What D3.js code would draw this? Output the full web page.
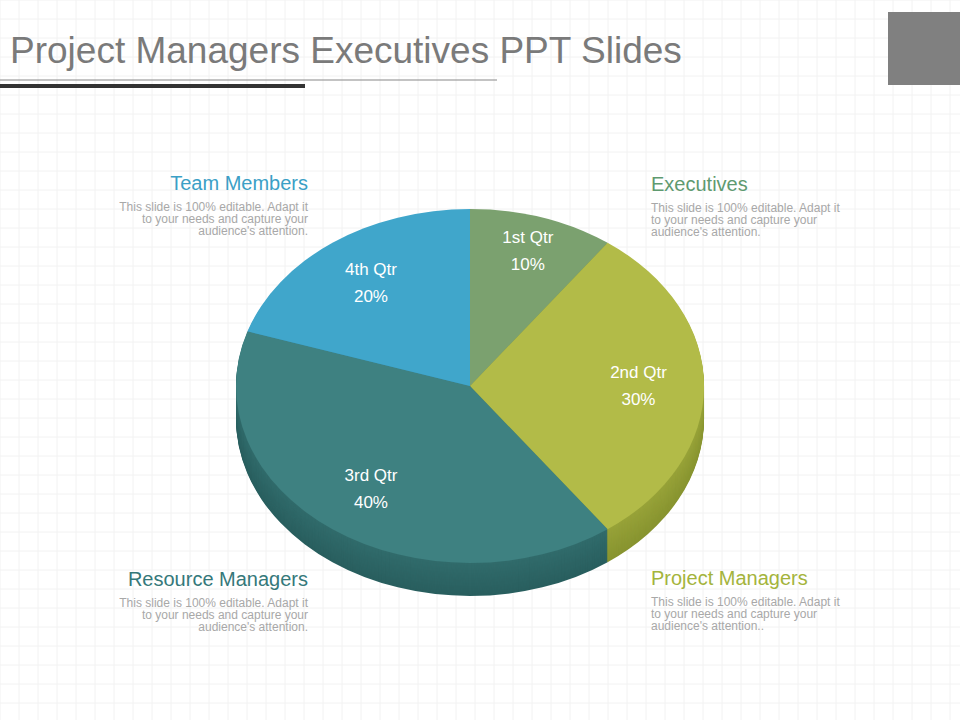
<!DOCTYPE html>
<html><head><meta charset="utf-8">
<script src="https://cdn.jsdelivr.net/npm/d3@7"></script>
<style>body{margin:0;background:#fff}text{font-family:"Liberation Sans",Arial,sans-serif}</style>
</head><body><svg id="c" width="960" height="720"></svg>
<script>
var quarters = ['1st Qtr', '2nd Qtr', '3rd Qtr', '4th Qtr'];
var shares = [10, 30, 40, 20];
var topColors = ['#7BA16F', '#B2BB48', '#3E8181', '#40A6CB'];
var sideColors = ['#4f6e47', '#7d8a2a', '#245656', '#2a7390'];
var headings = ['Executives', 'Project Managers', 'Resource Managers', 'Team Members'];
var headColors = ['#5f9a70', '#a4b43c', '#35787a', '#3b9fc6'];
var body = ["This slide is 100% editable. Adapt it", "to your needs and capture your", "audience's attention."];

var svg = d3.select('#c');
// faint grid
var grid = svg.append('g').attr('stroke', '#f2f2f2').attr('stroke-width', 1);
d3.range(0, 960, 19).forEach(function(x){ grid.append('line').attr('x1', x).attr('x2', x).attr('y1', 0).attr('y2', 720); });
d3.range(0, 720, 19).forEach(function(y){ grid.append('line').attr('y1', y).attr('y2', y).attr('x1', 0).attr('x2', 960); });

svg.append('text').attr('x', 10).attr('y', 63).attr('font-size', 37).attr('fill', '#7a7a7a')
   .text('Project Managers Executives PPT Slides');
svg.append('line').attr('x1', 0).attr('x2', 497).attr('y1', 80).attr('y2', 80).attr('stroke', '#888').attr('stroke-width', 1.2);
svg.append('line').attr('x1', 0).attr('x2', 305).attr('y1', 86).attr('y2', 86).attr('stroke', '#333').attr('stroke-width', 4);
svg.append('rect').attr('x', 888).attr('y', 12).attr('width', 72).attr('height', 73).attr('fill', '#808080');

var cx = 470, cy = 386, rx = 234, ry = 177, depth = 33;
var pie = d3.pie().sort(null).value(function(d){ return d; });
var arcs = pie(shares);
var arc = d3.arc().innerRadius(0).outerRadius(1);

// side extrusion
for (var dz = depth; dz > 0; dz--) {
  svg.append('g').attr('transform', 'translate(' + cx + ',' + (cy + dz) + ') scale(' + rx + ',' + ry + ')')
    .selectAll('path').data(arcs).join('path')
    .attr('d', arc).attr('fill', function(d, i){ return d3.interpolateRgb(sideColors[i], topColors[i])(0.2 + 0.3 * (1 - dz / depth)); });
}
svg.append('g').attr('transform', 'translate(' + cx + ',' + cy + ') scale(' + rx + ',' + ry + ')')
  .selectAll('path').data(arcs).join('path')
  .attr('d', arc).attr('fill', function(d, i){ return topColors[i]; });

var lab = svg.append('g').attr('fill', '#fff').attr('font-size', 17).attr('text-anchor', 'middle')
  .style('font-family', '"Open Sans",sans-serif');
arcs.forEach(function(d, i){
  var a = (d.startAngle + d.endAngle) / 2, r = i == 0 ? 0.8 : 0.72;
  var x = cx + rx * r * Math.sin(a), y = cy - ry * r * Math.cos(a);
  lab.append('text').attr('x', x).attr('y', y - 8).text(quarters[i]);
  lab.append('text').attr('x', x).attr('y', y + 19).text(shares[i] + '%');
});

var boxes = [[651, 191, 'start'], [651, 585, 'start'], [308, 586, 'end'], [308, 190, 'end']];
boxes.forEach(function(b, i){
  var g = svg.append('g').attr('text-anchor', b[2]);
  g.append('text').attr('x', b[0]).attr('y', b[1]).attr('font-size', 20).attr('fill', headColors[i]).text(headings[i]);
  body.forEach(function(t, j){
    var s = (i == 1 && j == 2) ? t + '.' : t;
    g.append('text').attr('x', b[0]).attr('y', b[1] + 21 + j * 12).attr('font-size', 12).attr('fill', '#a8a8a8').text(s);
  });
});
</script></body></html>
